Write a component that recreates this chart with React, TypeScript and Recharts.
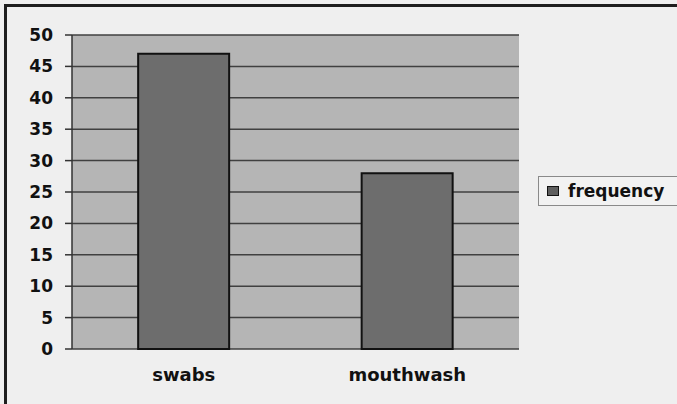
import React, { FC } from 'react';
import { BarChart, Bar, XAxis, YAxis, CartesianGrid, Legend } from 'recharts';

const categories = ['swabs', 'mouthwash'];
const frequency = [47, 28];
const yTicks = [0, 5, 10, 15, 20, 25, 30, 35, 40, 45, 50];

const data = categories.map((name, i) => ({ name, frequency: frequency[i] }));

const font = '"DejaVu Sans", sans-serif';

const LegendBox: FC = () => (
  <div
    style={{
      width: 160,
      height: 28,
      border: '1px solid #8a8a8a',
      background: '#f2f2f2',
      display: 'flex',
      alignItems: 'center',
      fontFamily: font,
      fontWeight: 'bold',
      fontSize: 17,
      color: '#111',
    }}
  >
    <span
      style={{
        display: 'inline-block',
        width: 10,
        height: 8,
        marginLeft: 8,
        marginRight: 9,
        background: '#5e5e5e',
        border: '1px solid #111',
      }}
    />
    frequency
  </div>
);

const App: FC = () => (
  <div
    style={{
      position: 'relative',
      width: 677,
      height: 404,
      background: '#efefef',
      overflow: 'hidden',
    }}
  >
    <style>{'body{margin:0}'}</style>
    {/* scanned frame: only the top and left edges show */}
    <div
      style={{
        position: 'absolute',
        left: 4,
        top: 4,
        width: 700,
        height: 420,
        borderTop: '3px solid #1e1e1e',
        borderLeft: '3px solid #1e1e1e',
      }}
    />
    <div style={{ position: 'absolute', left: 0, top: 0 }}>
      <BarChart
        width={677}
        height={404}
        data={data}
        barCategoryGap="29.6%"
        margin={{ top: 35, right: 158, bottom: 19, left: 0 }}
      >
        <CartesianGrid
          vertical={false}
          fill="#b5b5b5"
          stroke="#404040"
          strokeWidth={1.5}
        />
        {/* tick marks at the category boundaries */}
        <XAxis
          xAxisId="bounds"
          type="number"
          domain={[0, 2]}
          ticks={[0, 1, 2]}
          height={1}
          axisLine={false}
          tick={false}
          tickSize={5}
          tickLine={{ stroke: '#333', strokeWidth: 1.5 }}
        />
        <XAxis
          dataKey="name"
          height={35}
          axisLine={false}
          tickLine={false}
          tickSize={0}
          tickMargin={19}
          tick={{ fill: '#111', fontFamily: font, fontWeight: 'bold', fontSize: 18 }}
        />
        <YAxis
          width={72}
          domain={[0, 50]}
          ticks={yTicks}
          interval={0}
          axisLine={{ stroke: '#333', strokeWidth: 1.5 }}
          tickLine={{ stroke: '#333', strokeWidth: 1.5 }}
          tickSize={7}
          tickMargin={12}
          tick={{ fill: '#111', fontFamily: font, fontWeight: 'bold', fontSize: 17 }}
        />
        <Legend
          layout="horizontal"
          verticalAlign="middle"
          align="right"
          wrapperStyle={{ position: 'absolute', left: 538, top: 176, width: 0, height: 0, overflow: 'visible' }}
          content={() => <LegendBox />}
        />
        <Bar
          dataKey="frequency"
          fill="#6d6d6d"
          stroke="#111"
          strokeWidth={2}
          isAnimationActive={false}
        />
      </BarChart>
    </div>
  </div>
);

export default App;
